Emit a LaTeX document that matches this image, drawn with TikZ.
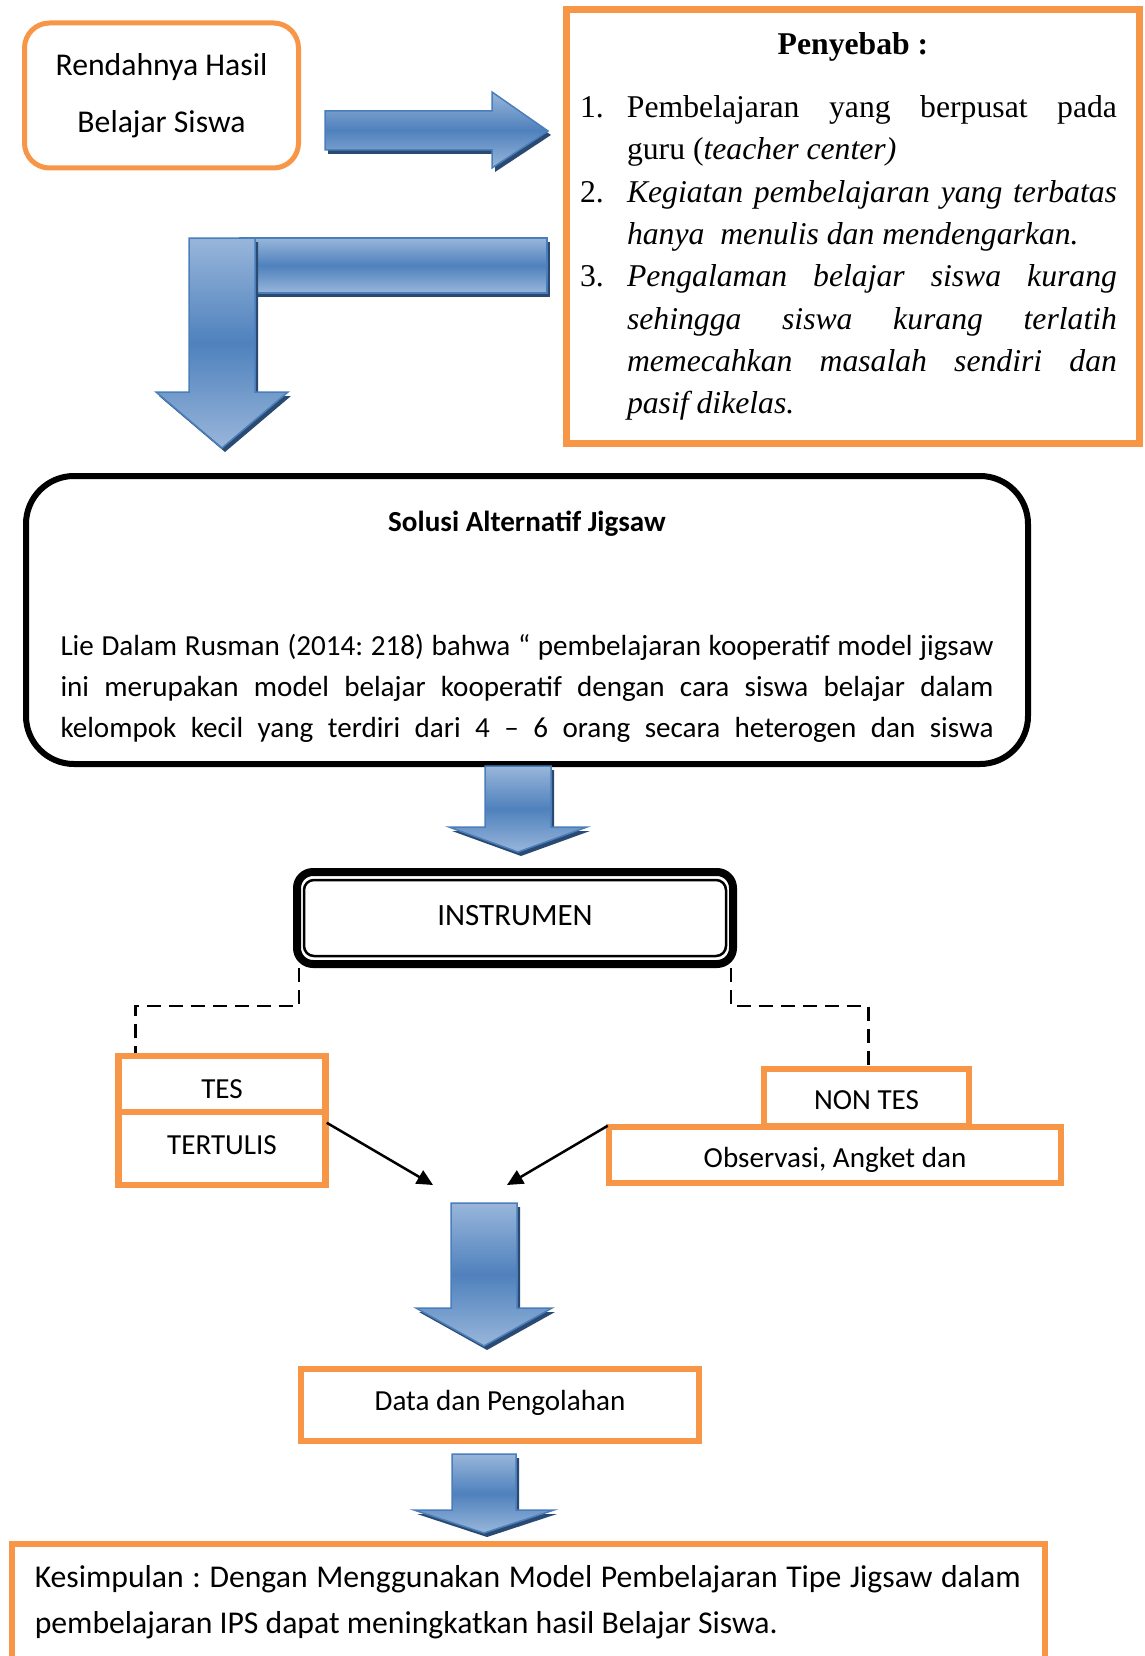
\documentclass[tikz,border=0pt]{standalone}
\usepackage{fontspec}
\setmainfont{Carlito}
\newfontfamily\timesfont{Liberation Serif}
\usepackage{tikz}
\usetikzlibrary{arrows.meta}
\definecolor{BoxOrange}{HTML}{F79646}
\definecolor{ArrowBlue}{HTML}{4F81BD}
\definecolor{ArrowLight}{HTML}{98B6DA}
\definecolor{ArrowEdge}{HTML}{4A7EBB}
\definecolor{ArrowShadow}{HTML}{2A4A72}
\frenchspacing
\def\fbig{\fontsize{31.7}{38}\selectfont}
\def\fsmall{\fontsize{29.1}{35}\selectfont}
\def\natspace{\spaceskip=0pt\xspaceskip=0pt\relax}
\newcommand{\numitem}[2]{\makebox[47pt][l]{#1}\makebox[490pt][s]{#2}}
\newcommand{\justline}[1]{\hspace*{47pt}\makebox[490pt][s]{#1}}
\newcommand{\nudgetext}[2]{\raisebox{#1}[\height][\depth]{#2}}
% centre x, half stem, top, head base, half head, tip
\newcommand{\downblock}[6]{%
  \path[arrowshade] (#1-#2,#3) -- (#1+#2,#3) -- (#1+#2,#4) -- (#1+#5,#4) -- (#1,#6) -- (#1-#5,#4) -- (#1-#2,#4) -- cycle;
  \path[blockarrow] (#1-#2,#3) -- (#1+#2,#3) -- (#1+#2,#4) -- (#1+#5,#4) -- (#1,#6) -- (#1-#5,#4) -- (#1-#2,#4) -- cycle;
}
\tikzset{
  orangebox/.style={draw=BoxOrange, line width=6.5pt, fill=white, inner sep=0pt, font=\fsmall},
  blockarrow/.style={draw=ArrowEdge, line width=1.5pt, top color=ArrowLight, bottom color=ArrowLight, middle color=ArrowBlue},
  arrowshade/.style={fill=ArrowShadow, shift={(3,4)}},
  dashline/.style={line width=2.5pt, dash pattern=on 14pt off 8pt},
  pointer/.style={line width=2.5pt, -{Triangle[length=16pt,width=15pt]}},
}

\begin{document}
\begin{tikzpicture}[x=1pt,y=-1pt]
        \path[use as bounding box, clip] (0,0) rectangle (1144,1656);

        \node[draw=BoxOrange, line width=5pt, rounded corners=25pt, minimum width=274pt, minimum height=145pt,
              align=center, font=\fontsize{31.7}{57}\selectfont] (rendah) at (161.5,95.5) {\natspace Rendahnya Hasil\\Belajar Siswa};

        \path[arrowshade] (325,111) -- (492,111) -- (492,92) -- (548,131) -- (492,168) -- (492,150) -- (325,150) -- cycle;
        \path[blockarrow] (325,111) -- (492,111) -- (492,92) -- (548,131) -- (492,168) -- (492,150) -- (325,150) -- cycle;

        \node[draw=BoxOrange, line width=7pt, minimum width=573pt, minimum height=434pt, inner sep=0pt,
              text width=546pt, align=left, font=\timesfont\fontsize{31.7}{42.3}\selectfont] (penyebab) at (853,226.5) {%
          \natspace\makebox[546pt]{\bfseries Penyebab :}\\[20.7pt]
          \numitem{1.}{Pembelajaran yang berpusat pada}\\
          \hspace*{47pt}guru (\textit{teacher center)}\\
          \numitem{2.}{\itshape Kegiatan pembelajaran yang terbatas}\\
          \hspace*{47pt}\textit{hanya\ \ menulis dan mendengarkan.}\\
          \numitem{3.}{\itshape Pengalaman belajar siswa kurang}\\
          \justline{\itshape sehingga siswa kurang terlatih}\\
          \justline{\itshape memecahkan masalah sendiri dan}\\
          \hspace*{47pt}\textit{pasif dikelas.}};

        \path[arrowshade] (240,238) rectangle (547,293);
        \path[blockarrow] (240,238) rectangle (547,293);
        \downblock{222}{33}{238}{392}{66}{448}

        \node[draw, line width=6pt, rounded corners=48pt, minimum width=1002pt, minimum height=288pt, inner sep=0pt,
              text width=933pt, align=center, font=\fontsize{29.1}{41}\selectfont] (solusi) at (527,620) {%
          \natspace\rule{0pt}{33pt}\makebox[933pt]{\bfseries Solusi Alternatif Jigsaw}\\[83pt]
          \makebox[933pt][s]{Lie Dalam Rusman (2014: 218) bahwa “ pembelajaran kooperatif model jigsaw}\\
          \makebox[933pt][s]{ini merupakan model belajar kooperatif dengan cara siswa belajar dalam}\\
          \makebox[933pt][s]{kelompok kecil yang terdiri dari 4 – 6 orang secara heterogen dan siswa}};

        \downblock{518}{33}{766}{827}{69}{852}

        \node[draw, fill=white, line width=8pt, rounded corners=16pt, minimum width=436pt, minimum height=92pt,
              font=\fontsize{31}{37}\selectfont] (instrumen) at (515,918) {\nudgetext{2pt}{INSTRUMEN}};
        \draw[line width=2.5pt, rounded corners=10pt] ([shift={(11,12)}]instrumen.north west) rectangle ([shift={(-11,-12)}]instrumen.south east);

        \node[orangebox, minimum width=207pt, minimum height=56pt] (tes) at (222,1084) {\nudgetext{-5pt}{TES}};
        \node[orangebox, minimum width=207pt, minimum height=73pt] (tertulis) at (222,1148.5) {\nudgetext{3pt}{TERTULIS}};
        \node[orangebox, minimum width=205pt, minimum height=57pt] (nontes) at (866.5,1097.5) {\nudgetext{-3pt}{NON TES}};
        \node[orangebox, minimum width=452pt, minimum height=56pt] (observasi) at (835,1155) {\nudgetext{-5pt}{Observasi, Angket dan}};

        \draw[dashline] ([xshift=6pt]instrumen.south west) -- ++(0,38) -| ([xshift=20pt]tes.north west);
        \draw[dashline] ([xshift=-6pt]instrumen.south east) -- ++(0,38) -| ([xshift=2pt]nontes.north);

        \coordinate (tipleft) at (433,1185);
        \coordinate (tipright) at (507,1185);
        \draw[pointer] ([shift={(-2,14)}]tertulis.north east) -- (tipleft);
        \draw[pointer] ([shift={(2,2)}]observasi.north west) -- (tipright);

        \downblock{484}{33}{1203}{1308}{68}{1346}

        \node[orangebox, minimum width=398pt, minimum height=72pt] (data) at (500,1405) {\nudgetext{2pt}{Data dan Pengolahan}};

        \downblock{484}{32}{1454}{1510}{70}{1533}

        \node[orangebox, anchor=north west, minimum width=1033pt, minimum height=117pt, text width=987pt, align=left,
              font=\fontsize{31.7}{46}\selectfont] (simpulan) at (8.5,1540.5) {%
          \natspace\makebox[986pt][s]{Kesimpulan : Dengan Menggunakan Model Pembelajaran Tipe Jigsaw dalam}\\
          pembelajaran IPS dapat meningkatkan hasil Belajar Siswa.};
\end{tikzpicture}
\end{document}
